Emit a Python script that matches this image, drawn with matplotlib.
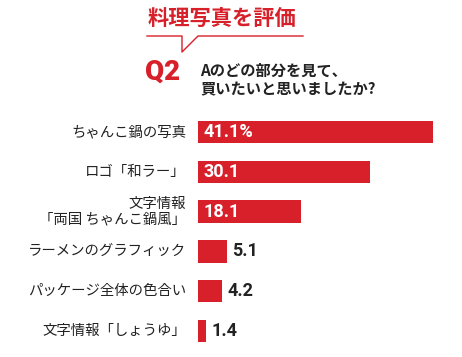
import matplotlib
matplotlib.use("Agg")
import matplotlib.pyplot as plt
from matplotlib.lines import Line2D

plt.rcParams['font.family'] = ['Noto Sans CJK JP', 'DejaVu Sans']

categories = ["ちゃんこ鍋の写真", "ロゴ「和ラー」", "文字情報\n「両国 ちゃんこ鍋風」",
              "ラーメンのグラフィック", "パッケージ全体の色合い", "文字情報「しょうゆ」"]
values = [41.1, 30.1, 18.1, 5.1, 4.2, 1.4]
value_labels = ["41.1%", "30.1", "18.1", "5.1", "4.2", "1.4"]
title = "料理写真を評価"
q_label = "Q2"
question = "Aのどの部分を見て、\n買いたいと思いましたか?"

RED = "#d7202a"
W, H = 462, 357
fig = plt.figure(figsize=(W / 100, H / 100), dpi=100)
fig.patch.set_facecolor("white")

def fx(x):
    return x / W

def fy(y):
    return 1 - y / H

# axes in pixel coords: left 198, right 433, top 112, bottom 351
ax = fig.add_axes([fx(198), fy(351), (433 - 198) / W, (351 - 112) / H])
ypos = list(range(len(values)))
ax.barh(ypos, values, height=0.56, color=RED, edgecolor="none")
ax.set_xlim(0, max(values))
ax.set_ylim(len(values) - 0.5, -0.5)
ax.axis("off")

num_font = ["Roboto", "Liberation Sans", "DejaVu Sans"]
for i, (v, lab, cat) in enumerate(zip(values, value_labels, categories)):
    if v > 10:
        ax.text(1.0, i, lab, color="white", fontsize=13, fontweight="bold",
                family=num_font, va="center", ha="left")
    else:
        ax.text(v + 0.9, i, lab, color="#222222", fontsize=13, fontweight="bold",
                family=num_font, va="center", ha="left")
    ax.text(-2.1, i, cat, color="#222222", fontsize=10.4, va="center", ha="right",
            linespacing=1.1)

# title
fig.text(fx(222), fy(18), title, color=RED, fontsize=15.3, fontweight="bold",
         ha="center", va="center")
# speech bubble line
xs = [147, 182, 182, 198, 303]
ys = [36, 36, 52, 36, 36]
fig.add_artist(Line2D([fx(x) for x in xs], [fy(y) for y in ys], color=RED, lw=1.0,
                      transform=fig.transFigure))
# Q2
fig.text(fx(145), fy(72), q_label, color=RED, fontsize=20, fontweight=900,
         family=num_font, ha="left", va="center")
fig.text(fx(200), fy(80), question, color="#222222", fontsize=11, fontweight="bold",
         ha="left", va="center", linespacing=1.2)

fig.savefig("out.png", dpi=100, facecolor="white")
